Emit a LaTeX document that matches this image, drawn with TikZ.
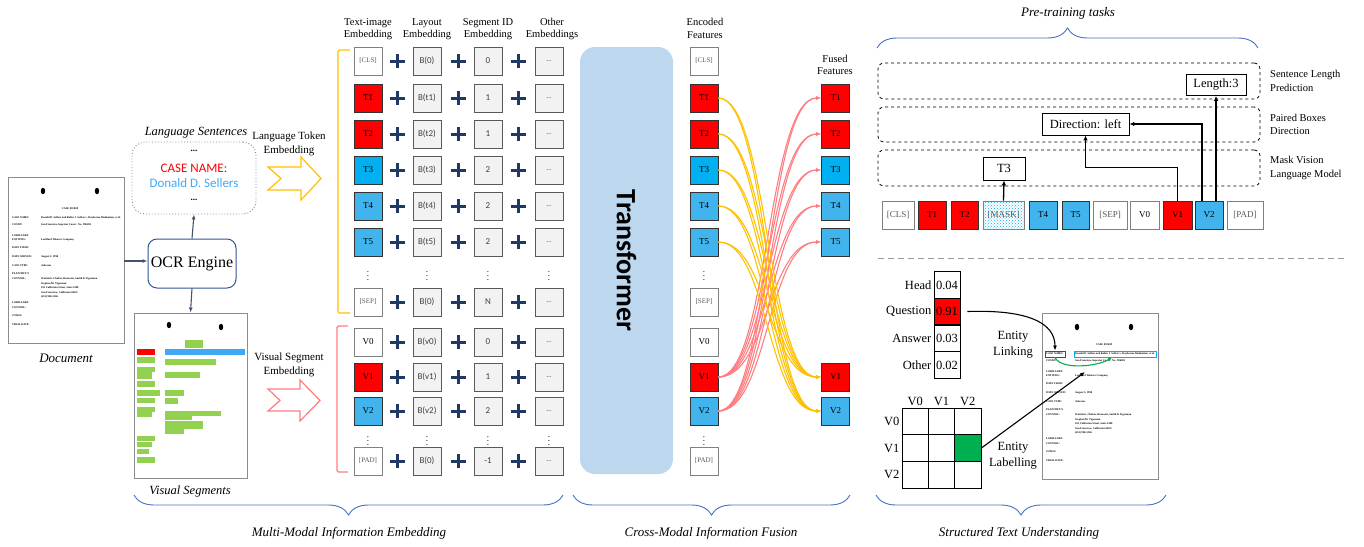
\documentclass[tikz,border=0pt]{standalone}
\usepackage{fontspec}
\setmainfont{Liberation Serif}
\newfontfamily\calfont{Carlito}
\usepackage{xcolor}
\usetikzlibrary{arrows.meta,calc,decorations.pathreplacing,patterns,positioning}

\definecolor{tokred}{HTML}{FF0000}
\definecolor{tokblue}{HTML}{00B0F0}
\definecolor{tokblueb}{HTML}{41B4EE}
\definecolor{plusnavy}{HTML}{1F3864}
\definecolor{embgrey}{HTML}{F2F2F2}
\definecolor{trfblue}{HTML}{BDD7EE}
\definecolor{linkgold}{HTML}{FFC000}
\definecolor{linkpink}{HTML}{FF7C80}
\definecolor{braceblue}{HTML}{4472C4}
\definecolor{ocrblue}{HTML}{2F5597}
\definecolor{slate}{HTML}{44546A}
\definecolor{namered}{HTML}{FF0000}
\definecolor{nameblue}{HTML}{3FA9F5}
\definecolor{seggreen}{HTML}{92D050}
\definecolor{cellgreen}{HTML}{00B050}

\tikzset{%
	hdr/.style      = {align=center, inner sep=0pt, font=\fontsize{10.5}{12.5}\selectfont},
	capt/.style     = {inner sep=0pt, font=\itshape\fontsize{13}{13}\selectfont},
	tokbase/.style  = {draw=black!80, line width=0.8pt, minimum width=28pt, minimum height=28pt, inner sep=0pt, font=\fontsize{9}{9}\selectfont},
	tokcls/.style   = {tokbase, draw=black!50, fill=white, text=black!65, font=\fontsize{7}{7}\selectfont},
	tokv/.style     = {tokbase, draw=black!50, fill=white},
	tokr/.style     = {tokbase, fill=tokred},
	tokb/.style     = {tokbase, fill=tokblue},
	tokl/.style     = {tokbase, fill=tokblueb},
	tokmask/.style  = {tokbase, draw=black!50, pattern=crosshatch dots, pattern color=tokblue, text=black!65},
	emb/.style      = {draw=black!65, line width=0.9pt, fill=embgrey, minimum width=28pt, minimum height=28pt, inner sep=0pt, text=black!75, font=\calfont\fontsize{9}{9}\selectfont},
	vdot/.style     = {inner sep=0pt, font=\fontsize{9}{9}\selectfont},
	plus/.pic       = {\draw[plusnavy, line width=3pt] (-7.5,0) -- (7.5,0) (0,-7) -- (0,7);},
	flow/.style     = {slate, line width=1.1pt, -{Latex[length=5pt,width=4pt]}},
	fuseY/.style    = {draw=linkgold, line width=1.1pt, -{Latex[length=5pt,width=4pt]}},
	fuseP/.style    = {draw=linkpink, line width=1.1pt, -{Latex[length=5pt,width=4pt]}},
	bluebrace/.style= {draw=braceblue, line width=0.9pt, decorate, decoration={brace, amplitude=20pt}},
	dashbox/.style  = {draw, dashed, rounded corners=6pt, line width=0.8pt, inner sep=0pt},
	task/.style     = {draw, line width=0.8pt, inner sep=0pt, font=\fontsize{12.5}{12.5}\selectfont},
	tasklab/.style  = {anchor=west, align=left, inner sep=0pt, font=\fontsize{10.5}{13.5}\selectfont},
	taskarrow/.style= {line width=1.3pt, -{Latex[length=5pt,width=4.5pt]}},
	probcell/.style = {draw, line width=0.9pt, minimum width=26pt, minimum height=26.5pt, inner sep=0pt, font=\fontsize{12.5}{12.5}\selectfont},
	mcell/.style    = {draw, line width=0.9pt, minimum width=26.3pt, minimum height=26.7pt, inner sep=0pt},
	stlab/.style    = {inner sep=2pt, font=\fontsize{12.5}{12.5}\selectfont},
	casedoc/.pic    = {
		\draw[black!45, line width=0.9pt, fill=white] (0,0) rectangle (116,166);
		\fill (35,14) ellipse [x radius=2.2, y radius=3.2];
		\fill (89,14) ellipse [x radius=2.2, y radius=3.2];
		\begin{scope}[every node/.style={inner sep=0pt, anchor=west, align=left, font=\bfseries\fontsize{2.7}{4.4}\selectfont}]
			\node[anchor=center] (-title) at (62,32) {CASE FORM};
			\foreach \yy/\lab [count=\i] in {41/{CASE NAME:}, 48/{COURT:}, 60.5/{LORILLARD\\ENTITIES:}, 71/{DATE FILED:}, 80/{DATE SERVED:}, 89/{CASE TYPE:}, 99/{PLAINTIFF'S\\COUNSEL:}, 128/{LORILLARD\\COUNSEL:}, 139/{JUDGE:}, 148/{TRIAL DATE:}}
				\node (-k\i) at (4,\yy) {\lab};
			\foreach \yy/\val [count=\i] in {41/{Donald D. Sellers and Robin J. Sellers v. Raybestos-Manhattan, et al.}, 48/{San Francisco Superior Court - No. 996282}, 63/{Lorillard Tobacco Company}, 80/{August 3, 1998}, 89/{Asbestos}, 111/{Wartnick, Chaber, Harowitz, Smith \& Tigerman\\Stephen M. Tigerman\\101 California Street, Suite 2200\\San Francisco, California 94111\\(415) 986-5566}}
				\node (-v\i) at (33,\yy) {\val};
		\end{scope}
	},
}

\begin{document}
\begin{tikzpicture}[x=1pt, y=-1pt]
	\useasboundingbox (0,0) rectangle (1364,546);

	% document, OCR and its two outputs
	\pic (ldoc) at (8,177) {casedoc};
	\node[capt] (doccap) at (66,358) {Document};
	\coordinate (docR) at (124,261);

	\node[draw=ocrblue, line width=1pt, rounded corners=9pt, minimum width=88pt, minimum height=49pt, inner sep=0pt, font=\fontsize{16}{16}\selectfont] (ocr) at (192,263.5) {OCR Engine};

	\node[draw=slate!70, dotted, line width=0.9pt, rounded corners=13pt, minimum width=124pt, minimum height=72pt] (lang) at (194,178) {};
	\node[capt, font=\itshape\fontsize{12.5}{12.5}\selectfont] (langcap) at (196,133) {Language Sentences};
	\node[inner sep=0pt, font=\bfseries\fontsize{9}{9}\selectfont] (ldots1) at (194,151) {...};
	\node[inner sep=0pt, text=namered, font=\calfont\fontsize{13}{13}\selectfont] (lname) at (194,168) {CASE NAME:};
	\node[inner sep=0pt, text=nameblue, font=\calfont\fontsize{13}{13}\selectfont] (lval) at (194,183.5) {Donald D. Sellers};
	\node[inner sep=0pt, font=\bfseries\fontsize{9}{9}\selectfont] (ldots2) at (194,200) {...};

	\node[draw=black!45, line width=0.9pt, fill=white, minimum width=113pt, minimum height=165pt, inner sep=0pt] (vis) at (190.5,395.5) {};
	\fill (169,325) ellipse [x radius=2.2, y radius=3.2];
	\fill (221,327) ellipse [x radius=2.2, y radius=3.2];
	\fill[tokred] (137,349) rectangle (155,355);
	\fill[nameblue] (165,349) rectangle (245,355);
	\foreach \a/\b/\c/\d in {185/340/203/348, 137/357/155/363, 137/367/155/372, 137/372/152/379, 137/381/155/387, 137/390/160/396, 137/398/155/403, 137/407/155/412, 137/412/152/417, 137/436/155/441, 137/442/152/447, 137/449/149/454, 137/457/155/463, 165/359/216/365, 165/372/200/378, 165/390/184/396, 165/398/178/404, 165/411/221/416, 165/416/192/420, 165/421/203/429, 165/429/184/434}
		\fill[seggreen] (\a,\b) rectangle (\c,\d);
	\node[capt, font=\itshape\fontsize{12.5}{12.5}\selectfont] (viscap) at (190,491) {Visual Segments};

	\draw[flow] (docR) -- (ocr.west |- docR);
	\draw[flow] (ocr.north) -- (lang.south);
	\draw[flow] (ocr.south) -- (vis.north);

	% the two embedding arrows
	\node[hdr, font=\fontsize{11}{14}\selectfont] (langemb) at (289,144) {Language Token\\Embedding};
	\draw[linkgold, line width=1.2pt, fill=white] (268,167) -- (301,167) -- (301,157) -- (321,178.5) -- (301,200) -- (301,190) -- (268,190) -- (281,178.5) -- cycle;
	\node[hdr, font=\fontsize{11}{14}\selectfont] (visemb) at (289,365) {Visual Segment\\Embedding};
	\draw[linkpink, line width=1.2pt, fill=white] (268,389) -- (300,389) -- (300,380) -- (320,400.5) -- (300,421) -- (300,411) -- (268,411) -- (280,400.5) -- cycle;

	% embedding table
	\node[hdr] (h1) at (368,29) {Text-image\\Embedding};
	\node[hdr] (h2) at (427,29) {Layout\\Embedding};
	\node[hdr] (h3) at (488,29) {Segment ID\\Embedding};
	\node[hdr] (h4) at (552,29) {Other\\Embeddings};

	\draw[linkgold, line width=1.3pt, rounded corners=1.5pt] (350,50) -- (338,50) -- (338,313) -- (350,313);
	\draw[linkpink, line width=1.3pt, rounded corners=1.5pt] (348,326) -- (337,326) -- (337,472) -- (348,472);

	\foreach \r/\yy/\sty/\lab/\lay/\seg in {cls/61/tokcls/{[CLS]}/B(0)/0, t1/98/tokr/T1/B(t1)/1, t2/134/tokr/T2/B(t2)/1, t3/170/tokb/T3/B(t3)/2, t4/206/tokl/T4/B(t4)/2, t5/242/tokl/T5/B(t5)/2, sep/302/tokcls/{[SEP]}/B(0)/N, v0/342/tokv/V0/B(v0)/0, v1/377/tokr/V1/B(v1)/1, v2/411/tokl/V2/B(v2)/2, pad/461/tokcls/{[PAD]}/B(0)/-1}
	{
		\node[\sty] (e\r) at (368,\yy) {\lab};
		\pic at (397,\yy) {plus};
		\node[emb] (l\r) at (427,\yy) {\lay};
		\pic at (458,\yy) {plus};
		\node[emb] (s\r) at (488,\yy) {\seg};
		\pic at (518,\yy) {plus};
		\node[emb, font=\calfont\fontsize{7}{7}\selectfont] (o\r) at (549,\yy) {...};
		\node[\sty] (c\r) at (704,\yy) {\lab};
	}
	\foreach \xx [count=\i] in {368,427,488,549,704}
	{
		\node[vdot] (da\i) at (\xx,273) {$\vdots$};
		\node[vdot] (db\i) at (\xx,438) {$\vdots$};
	}

	% transformer and fusion
	\node[fill=trfblue, rounded corners=15pt, minimum width=427pt, minimum height=93pt, inner sep=0pt, rotate=-90, font=\calfont\bfseries\fontsize{28}{28}\selectfont] (trf) at (626.5,260.5) {Transformer};

	\node[hdr] (ench) at (705,28.5) {Encoded\\Features};
	\node[hdr] (fush) at (835,65) {Fused\\Features};
	\foreach \r/\yy/\sty/\lab in {t1/98/tokr/T1, t2/134/tokr/T2, t3/170/tokb/T3, t4/206/tokl/T4, t5/242/tokl/T5, v1/377/tokr/V1, v2/411/tokl/V2}
		\node[\sty] (f\r) at (835.5,\yy) {\lab};

	\foreach \v in {v1,v2}
		\foreach \t in {t1,t2,t3,t4,t5}
			\draw[fuseP] (c\v.east) .. controls +(50,0) and +(-54,0) .. (f\t.west);
	\foreach \t in {t1,t2,t3,t4,t5}
		\foreach \v in {v1,v2}
			\draw[fuseY] (c\t.east) .. controls +(50,0) and +(-54,0) .. (f\v.west);

	% bottom braces
	\draw[bluebrace, decoration={mirror}] (134,495) -- (563,495);
	\node[capt] (mmcap) at (349,533) {Multi-Modal Information Embedding};
	\draw[bluebrace, decoration={mirror}] (573,495) -- (850,495);
	\node[capt] (cmcap) at (711,533) {Cross-Modal Information Fusion};
	\draw[bluebrace, decoration={mirror}] (876,495) -- (1166,495);
	\node[capt] (stcap) at (1019,533) {Structured Text Understanding};

	% pre-training tasks
	\draw[bluebrace] (877,48) -- (1258,48);
	\node[capt] (ptcap) at (1068,13) {Pre-training tasks};

	\node[dashbox, minimum width=382pt, minimum height=36pt] (slp) at (1069,81) {};
	\node[dashbox, minimum width=382pt, minimum height=35pt] (pbd) at (1069,124.5) {};
	\node[dashbox, minimum width=382pt, minimum height=36pt] (mvlm) at (1069,168) {};
	\node[tasklab] (slpl) at (1270,81) {Sentence Length\\Prediction};
	\node[tasklab] (pbdl) at (1270,124.5) {Paired Boxes\\Direction};
	\node[tasklab] (mvlml) at (1270,168) {Mask Vision\\Language Model};

	\foreach \n/\xx/\bw/\sty/\lab in {pcls/898/32/tokcls/{[CLS]}, pt1/932/28/tokr/T1, pt2/964.5/27/tokr/T2, pmask/1003.5/41/tokmask/{[MASK]}, pt4/1043/28/tokl/T4, pt5/1075.5/27/tokl/T5, psep/1110/34/tokcls/{[SEP]}, pv0/1144.5/29/tokv/V0, pv1/1177.5/29/tokr/V1, pv2/1209/28/tokl/V2, ppad/1245/36/tokcls/{[PAD]}}
		\node[\sty, minimum width=\bw pt, font=\fontsize{9}{9}\selectfont] (\n) at (\xx,215) {\lab};

	\node[task, minimum width=42pt, minimum height=23pt] (pt3) at (1004,168.5) {T3};
	\node[task, minimum width=87pt, minimum height=22pt] (pdir) at (1085.5,124) {Direction: left};
	\node[task, minimum width=60pt, minimum height=21pt] (plen) at (1216,85) {Length:3};

	\draw[taskarrow] (pmask.north) -- (pt3.south);
	\draw[taskarrow] (pv1.north) -- ++(0,-33) -| (pdir.south);
	\draw[taskarrow] ([xshift=-7pt]pv2.north) |- (pdir.east);
	\draw[taskarrow] ([xshift=7pt]pv2.north) -- (plen.south);

	\draw[black!40, line width=1pt, dash pattern=on 6pt off 4pt] (878,258) -- (1345,258);

	% structured text understanding
	\foreach \lab/\val/\yy/\fc [count=\i] in {Head/0.04/285/white, Question/0.91/311.5/tokred, Answer/0.03/338.5/white, Other/0.02/365/white}
	{
		\node[probcell, fill=\fc] (p\i) at (947,\yy) {\val};
		\node[stlab, left] (pl\i) at (p\i.west) {\lab};
	}

	\foreach \r in {0,1,2}
		\foreach \c in {0,1,2}
			\node[mcell] (m\r\c) at (915.2+26.3*\c, 421.3+26.7*\r) {};
	\node[mcell, fill=cellgreen] (m12) at (967.8,448) {};
	\foreach \c in {0,1,2}
	{
		\node[stlab, above] (mc\c) at (m0\c.north) {V\c};
		\node[stlab, left] (mr\c) at (m\c0.west) {V\c};
	}

	\node[stlab, align=center, font=\fontsize{12.5}{16}\selectfont] (elink) at (1013,345) {Entity\\Linking};
	\node[stlab, align=center, font=\fontsize{12.5}{16}\selectfont] (elab) at (1013,456) {Entity\\Labelling};

	\pic (rdoc) at (1042,313) {casedoc};
	\node[draw=tokred, line width=0.8pt, minimum width=20pt, minimum height=6pt, inner sep=0pt] (cnbox) at (1055,354) {};
	\node[draw=tokblue, line width=0.8pt, minimum width=82pt, minimum height=6pt, inner sep=0pt] (valbox) at (1115,354) {};
	\coordinate (lblend) at (1085,372);

	\draw[cellgreen, line width=1.1pt, -{Latex[length=4pt,width=3.5pt]}] (cnbox.south) .. controls +(6,13) and +(-14,9) .. ([xshift=-3pt]valbox.south);
	\draw[line width=1.1pt, -{Latex[length=5pt,width=4pt]}] ([xshift=7pt]p2.east) .. controls +(60,-2) and +(0,-28) .. (cnbox.north);
	\draw[line width=1.1pt, -{Latex[length=5pt,width=4pt]}] (m12.east) -- (lblend);
\end{tikzpicture}
\end{document}
